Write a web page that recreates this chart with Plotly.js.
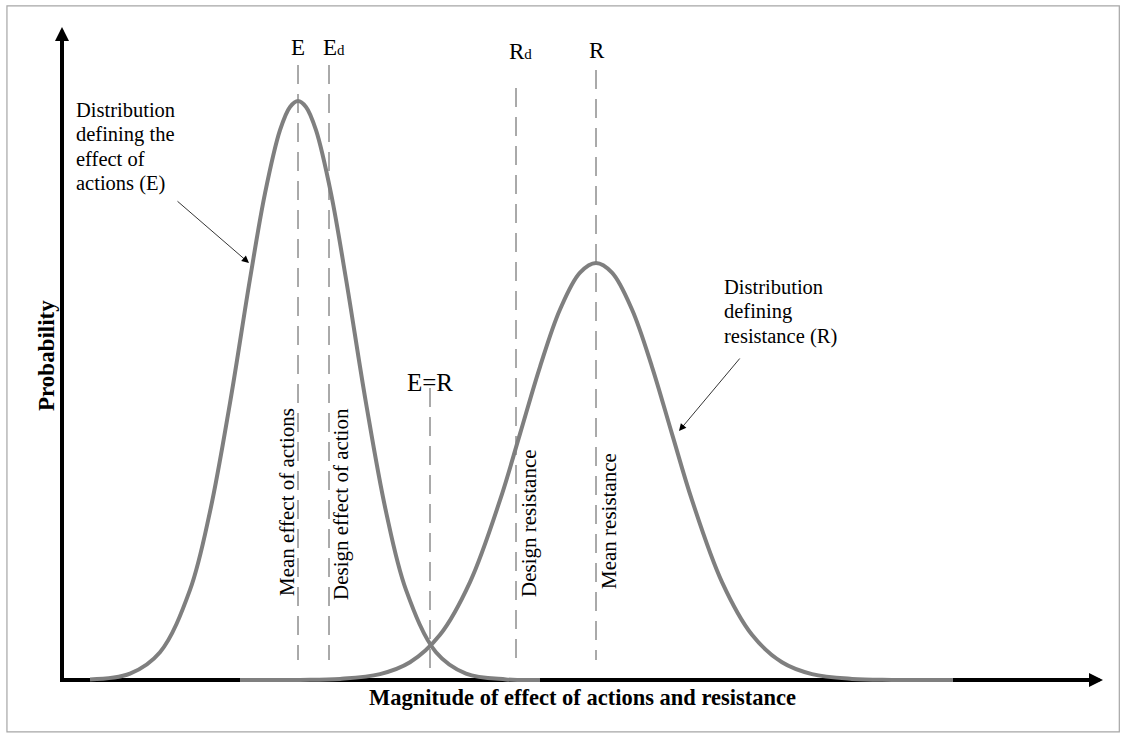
<!DOCTYPE html>
<html>
<head>
<meta charset="utf-8">
<script src="https://cdn.plot.ly/plotly-3.0.1.min.js"></script>
<style>html,body{margin:0;padding:0;background:#fff;}#chart{width:1121px;height:734px;}</style>
</head>
<body>
<div id="chart"></div>
<script>
// Distribution of effect of actions (E): magnitude vs probability (arbitrary units)
const effectX = [90, 130, 160, 190, 210, 230, 250, 265, 280, 290, 298, 306, 316, 331, 346, 366, 386, 406, 436, 466, 506, 540];
const effectP = [0.6, 6.4, 27.8, 90.1, 168.4, 277.0, 401.0, 486.7, 549.9, 573.1, 579, 573.1, 549.9, 486.7, 401.0, 277.0, 168.4, 90.1, 27.8, 6.4, 0.6, 0];
// Distribution of resistance (R)
const resistX = [240, 300, 340, 380, 410, 440, 470, 500, 520, 540, 560, 580, 596, 612, 632, 652, 672, 692, 722, 752, 782, 812, 852, 892, 953];
const resistP = [0, 0.1, 1.1, 5.9, 17.7, 45.2, 97.9, 179.8, 246.1, 313.2, 370.5, 407.4, 417, 407.4, 370.5, 313.2, 246.1, 179.8, 97.9, 45.2, 17.7, 5.9, 1.1, 0.1, 0];
// Characteristic values on the magnitude axis
const markNames = ['E', 'E<span style="font-size:15px">d</span>', 'R<span style="font-size:15px">d</span>', 'R', 'E=R'];
const markX = [298, 329, 516, 596, 430];
const markDesc = ['Mean effect of actions', 'Design effect of action', 'Design resistance', 'Mean resistance', ''];
const leftNote = ['Distribution', 'defining the', 'effect of', 'actions (E)'];
const rightNote = ['Distribution', 'defining', 'resistance (R)'];

const FONT = 'Liberation Serif, Times New Roman, serif';
const BASE = 680; // pixel row of baseline (y=0)
const py = p => BASE - p; // pixel row -> data y

const traces = [
  {x: effectX, y: effectP, mode: 'lines', line: {color: '#7f7f7f', width: 4, shape: 'spline', smoothing: 1}, hoverinfo: 'skip'},
  {x: resistX, y: resistP, mode: 'lines', line: {color: '#7f7f7f', width: 4, shape: 'spline', smoothing: 1}, hoverinfo: 'skip'}
];

const dashTop = [65, 65, 88, 70, 388];
const dashBot = [660, 660, 662, 660, 670];
const shapes = [
  {type: 'rect', xref: 'paper', yref: 'paper', x0: 0.0062, x1: 0.9985, y0: 0.003, y1: 0.992, line: {color: '#a6a6a6', width: 1.2}, layer: 'below'},
  {type: 'line', x0: 62, x1: 62, y0: py(682), y1: py(40), line: {color: '#000', width: 4}, layer: 'below'},
  {type: 'line', x0: 60, x1: 1090, y0: 0, y1: 0, line: {color: '#000', width: 4}, layer: 'below'}
];
markX.forEach((x, i) => {
  shapes.push({type: 'line', x0: x, x1: x, y0: py(dashTop[i]), y1: py(dashBot[i]),
    line: {color: '#555', width: 1, dash: '19px,10px'}, layer: 'below'});
});

const arrow = (x, y, ax, ay, size, w) => ({x: x, y: y, ax: ax, ay: ay, axref: 'x', ayref: 'y', text: '', showarrow: true,
  arrowhead: 2, arrowsize: size, arrowwidth: w, arrowcolor: '#000', standoff: 0});

const annotations = [
  arrow(62, py(27), 62, py(45), 0.7, 4),
  arrow(1103, 0, 1085, 0, 0.7, 4),
  arrow(249, py(263), 176, py(200), 1.8, 0.8),
  arrow(679, py(431), 741, py(357), 1.8, 0.8),
  {x: 46, y: py(356), showarrow: false, textangle: -90, text: '<b>Probability</b>', font: {family: FONT, size: 23, color: '#000'}},
  {x: 582, y: py(697), showarrow: false, text: '<b>Magnitude of effect of actions and resistance</b>', font: {family: FONT, size: 22.5, color: '#000'}}
];
leftNote.forEach((t, i) => annotations.push({x: 74, y: py(110 + i * 24.4), xanchor: 'left', showarrow: false, text: t,
  font: {family: FONT, size: 20.5, color: '#000'}}));
rightNote.forEach((t, i) => annotations.push({x: 722, y: py(287 + i * 24.5), xanchor: 'left', showarrow: false, text: t,
  font: {family: FONT, size: 20.5, color: '#000'}}));
const labelPos = [[298, 47], [334, 47], [520, 51], [597, 50], [430, 382]];
const labelSize = [23, 23, 23, 23, 25];
const descPos = [[287, 502], [341, 504], [529, 523], [609, 521]];
markNames.forEach((t, i) => {
  annotations.push({x: labelPos[i][0], y: py(labelPos[i][1]), showarrow: false, text: t, font: {family: FONT, size: labelSize[i], color: '#000'}});
  if (markDesc[i]) {
    annotations.push({x: descPos[i][0], y: py(descPos[i][1]), showarrow: false, textangle: -90, text: markDesc[i], font: {family: FONT, size: 21, color: '#000'}});
  }
});

const layout = {
  width: 1121, height: 734,
  margin: {l: 0, r: 0, t: 0, b: 0},
  paper_bgcolor: '#fff', plot_bgcolor: '#fff',
  showlegend: false,
  xaxis: {range: [0, 1121], visible: false, fixedrange: true},
  yaxis: {range: [BASE - 734, BASE], visible: false, fixedrange: true},
  shapes: shapes,
  annotations: annotations
};
Plotly.newPlot('chart', traces, layout, {staticPlot: true, displayModeBar: false});
</script>
</body>
</html>
